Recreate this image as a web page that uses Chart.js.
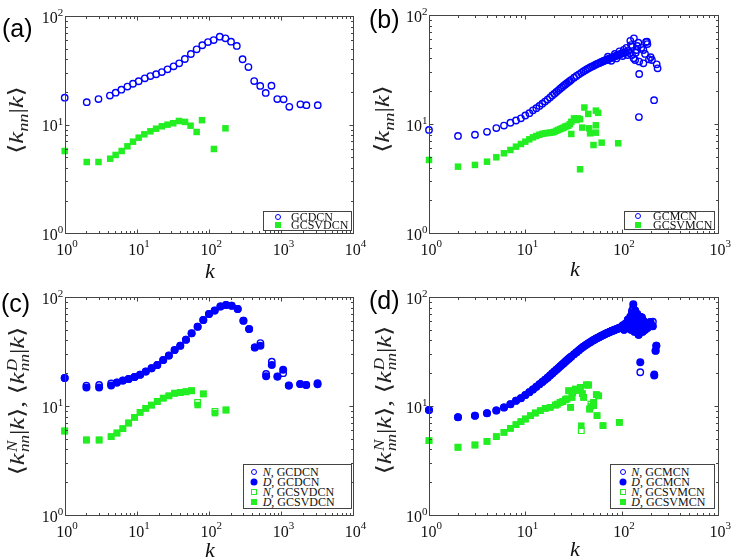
<!DOCTYPE html>
<html><head><meta charset="utf-8">
<script src="https://cdn.jsdelivr.net/npm/chart.js@4.4.1/dist/chart.umd.min.js"></script>
<style>
html,body{margin:0;padding:0;background:#fff}
body{width:734px;height:559px;position:relative;overflow:hidden;font-family:'Liberation Serif',serif;color:#111}
canvas{position:absolute;display:block}
.plab{position:absolute;font:25px 'Liberation Sans',Arial,sans-serif;line-height:25px;color:#000}
.xt{position:absolute;font:italic 22px 'Liberation Serif',serif;line-height:22px;transform:translateX(-50%);color:#111}
.yt{position:absolute;font:22px 'Liberation Serif',serif;line-height:26px;white-space:nowrap;color:#222;transform:translate(-50%,-50%) rotate(-90deg) scaleX(1.22)}
.yt i{font-style:italic}
.yt .sb{font-size:15px;position:relative;top:5px}
.yt .st{display:inline-block;vertical-align:-5px;font-size:14px;line-height:12px;margin-left:1px}
.yt .st i{display:block}
.yt .br{font-family:'DejaVu Serif',serif;font-size:21px;font-weight:300}
.leg{position:absolute;border:1px solid #444;background:#fff;box-sizing:border-box;font:12px 'Liberation Serif',serif;color:#111}
.leg .mk{position:absolute;box-sizing:border-box;transform:translate(-50%,-50%)}
.leg .tx{position:absolute;line-height:10px;white-space:nowrap;transform:translateY(-50%)}
.oc{width:6px;height:6px;border:1.3px solid #0000ff;border-radius:50%}
.fc{width:7px;height:7px;background:#0000ff;border-radius:50%}
.os{width:6px;height:6px;border:1.2px solid #22ee22}
.fs{width:6px;height:6px;background:#22ee22}
</style>
</head><body>
<canvas id="ca" width="367" height="279" style="left:0;top:0"></canvas>
<canvas id="cb" width="367" height="279" style="left:367px;top:0"></canvas>
<canvas id="cc" width="367" height="280" style="left:0;top:279px"></canvas>
<canvas id="cd" width="367" height="280" style="left:367px;top:279px"></canvas>

<div class="plab" style="left:2px;top:16px">(a)</div>
<div class="plab" style="left:369px;top:7px">(b)</div>
<div class="plab" style="left:1px;top:291px">(c)</div>
<div class="plab" style="left:369px;top:288px">(d)</div>

<div class="xt" style="left:210px;top:260px">k</div>
<div class="xt" style="left:575px;top:258px">k</div>
<div class="xt" style="left:210px;top:539px">k</div>
<div class="xt" style="left:575px;top:538px">k</div>

<div class="yt" style="left:17px;top:120px"><span class="br">⟨</span><i>k</i><span class="sb"><i>nn</i></span>|<i>k</i><span class="br">⟩</span></div>
<div class="yt" style="left:383px;top:119px"><span class="br">⟨</span><i>k</i><span class="sb"><i>nn</i></span>|<i>k</i><span class="br">⟩</span></div>
<div class="yt" style="left:17px;top:401px"><span class="br">⟨</span><i>k</i><span class="st"><i>N</i><i>nn</i></span>|<i>k</i><span class="br">⟩</span>, <span class="br">⟨</span><i>k</i><span class="st"><i>D</i><i>nn</i></span>|<i>k</i><span class="br">⟩</span></div>
<div class="yt" style="left:384px;top:400px"><span class="br">⟨</span><i>k</i><span class="st"><i>N</i><i>nn</i></span>|<i>k</i><span class="br">⟩</span>, <span class="br">⟨</span><i>k</i><span class="st"><i>D</i><i>nn</i></span>|<i>k</i><span class="br">⟩</span></div>

<div class="leg" style="left:262.5px;top:211px;width:89px;height:19.5px">
  <span class="mk oc" style="left:14.8px;top:4.7px"></span><span class="tx" style="left:27.5px;top:4.7px">GCDCN</span>
  <span class="mk fs" style="left:14.8px;top:13.3px"></span><span class="tx" style="left:27.5px;top:13.3px">GCSVDCN</span>
</div>
<div class="leg" style="left:623.7px;top:210.7px;width:91.6px;height:19.3px">
  <span class="mk oc" style="left:13.3px;top:4.7px"></span><span class="tx" style="left:28.3px;top:4.7px">GCMCN</span>
  <span class="mk fs" style="left:13.3px;top:13.3px"></span><span class="tx" style="left:28.3px;top:13.3px">GCSVMCN</span>
</div>
<div class="leg" style="left:243.3px;top:464px;width:108.4px;height:45px">
  <span class="mk oc" style="left:10px;top:6.7px"></span><span class="tx" style="left:18.4px;top:6.7px"><i>N</i>, GCDCN</span>
  <span class="mk fc" style="left:10px;top:16.7px"></span><span class="tx" style="left:18.4px;top:16.7px"><i>D</i>, GCDCN</span>
  <span class="mk os" style="left:10px;top:26.7px"></span><span class="tx" style="left:18.4px;top:26.7px"><i>N</i>, GCSVDCN</span>
  <span class="mk fs" style="left:10px;top:36.7px"></span><span class="tx" style="left:18.4px;top:36.7px"><i>D</i>, GCSVDCN</span>
</div>
<div class="leg" style="left:610.3px;top:464px;width:105px;height:45px">
  <span class="mk oc" style="left:11.7px;top:6.7px"></span><span class="tx" style="left:20px;top:6.7px"><i>N</i>, GCMCN</span>
  <span class="mk fc" style="left:11.7px;top:16.7px"></span><span class="tx" style="left:20px;top:16.7px"><i>D</i>, GCMCN</span>
  <span class="mk os" style="left:11.7px;top:26.7px"></span><span class="tx" style="left:20px;top:26.7px"><i>N</i>, GCSVMCN</span>
  <span class="mk fs" style="left:11.7px;top:36.7px"></span><span class="tx" style="left:20px;top:36.7px"><i>D</i>, GCSVMCN</span>
</div>

<script>
// ---------- tick values ----------
const xTicksWide = [1, 10, 100, 1000, 10000];
const xTicksNarrow = [1, 10, 100, 1000];
const yTicks = [1, 10, 100];

// ---------- panel (a) ----------
const aGCDCN_k = [1,2.02,2.94,4.23,5.08,6.1,7.4,8.84,10.6,12.9,15.4,18.5,22.2,26.6,32.3,38.6,46.3,56.1,67.4,80.7,96.8,116,141,169,202,243,292,352,423,513,611,734,884,1081,1298,1849,2240,3216];
const aGCDCN_v = [17.7,16.1,17.2,18.5,19.7,21.0,22.4,23.8,25.1,26.7,28.0,29.1,30.5,32.3,34.4,36.7,40.2,44.7,49.4,53.8,57.6,60.1,64.5,62.3,58.0,53.0,40.0,33.9,25.2,22.7,19.6,22.8,17.2,17.1,14.6,15.4,15.1,15.1];
const aGCSVDCN_k = [1,2.02,2.94,4.27,5.08,6.16,7.4,8.84,10.6,12.7,15.4,18.5,22.2,26.6,31.9,38.3,46.5,55.5,67.4,80,117,169];
const aGCSVDCN_v = [5.72,4.53,4.53,4.86,5.26,5.72,6.32,6.97,7.59,8.15,8.68,9.18,9.66,10.0,10.3,10.8,10.6,9.78,8.56,11.0,5.97,9.25];

// ---------- panel (b) ----------
const bGCMCN_k = [1,2,3,4,5,6,7,8,9,10,11,12,13,14,15,16,17,18,19,20,21,22,23,24,25,26,27,28,29,30,32,34,36,38,40,42,44,46,48,50,52,54,56,58,60,62,64,66,68,70,72,74,76,78,80,82,84,86,88,90,92,94,96,98,100,
  72,78,85,88,95,102,105,108,112,115,118,122,125,129,134,143,149,138,152,133,168,168,179,185,192,206,231,236,152,217,151,160,140,123,183,110,128,145,175,200];
const bGCMCN_v = [8.85,7.8,8.0,8.5,9.2,9.7,10.3,10.8,11.3,12.0,12.6,13.4,14.0,14.7,15.4,16.1,16.8,17.5,18.3,19.0,19.7,20.4,21.1,21.8,22.5,23.1,23.7,24.3,24.9,25.5,26.6,27.6,28.6,29.5,30.4,31.2,32.0,32.7,33.4,34.0,34.6,35.2,35.7,36.2,36.7,37.2,37.7,38.1,38.5,38.9,39.3,39.7,40.1,40.5,40.9,41.3,41.6,42.0,42.3,42.7,43.0,43.4,43.8,44.1,44.5,
  41.5,38.0,44.0,40.0,46.5,42.0,48.0,45.0,50.0,43.0,47.0,44.6,53.0,51.3,61.1,47.8,55.8,38.7,37.4,40.1,47.8,36.1,56.6,54.2,39.3,38.7,35.3,32.5,28.8,16.6,11.6,50.0,45.0,58.0,57.0,46.0,43.0,52.0,44.0,41.0];
const bGCSVMCN_k = [1,2,3,4,5,6,7,8,9,10,11,12,13,14,15,16,17,18,19,20,21,22,23,24,25,26,27,28,29,30,32,34,35,37,41,45,54,57,39,46,47,54,54,51,62,92,30,37];
const bGCSVMCN_v = [4.7,4.08,4.23,4.53,4.97,5.41,5.8,6.22,6.58,6.91,7.26,7.57,7.79,8.0,8.15,8.24,8.3,8.36,8.4,8.5,8.7,8.85,9.0,9.16,9.3,9.49,9.6,9.69,10.0,10.5,11.3,10.9,11.3,11.1,14.2,12.4,13.3,12.7,9.3,9.16,8.24,9.76,8.36,6.44,6.77,6.68,8.13,3.86];

// ---------- panel (c) ----------
const cBlue_k = [1,2,3,4.4,5.3,6.4,7.7,9.3,11.1,13.3,16,19.2,23.2,27.8,33.4,40,48,57.4,69.6,83.4,100,120,144,172,206,250,300,360,431,516,619,742,889,1066,1277,1836,2224,3197];
const cN_GCDCN_v = [18.1,15.4,15.6,16.1,16.4,17.1,17.7,18.5,19.4,20.7,22.2,23.8,26.4,29.0,32.6,35.8,40.6,46.4,53.4,61.5,69.8,75.0,82.0,84.5,83.2,77.6,60.6,50.8,34.5,37.8,19.7,25.5,18.6,20.0,15.4,15.9,15.6,16.2];
const cD_GCDCN_v = [18.1,14.8,14.8,15.4,16.4,17.1,17.7,18.5,19.4,20.7,22.2,23.8,26.4,29.0,32.6,35.8,40.6,46.4,53.4,61.5,69.8,75.0,82.0,84.5,83.2,77.6,60.6,50.8,34.5,35.8,18.7,23.8,18.6,21.5,15.4,15.9,15.6,15.8];
const cGreen_k = [1,2,3,4.4,5.3,6.4,7.7,9.3,11.1,13.3,16,19.2,23.2,27.8,33.4,40,48,57.4,69.6,83.4,121,172];
const cN_GCSVDCN_v = [5.9,4.88,4.88,5.23,5.65,6.2,6.98,7.87,8.75,9.52,10.2,11.0,11.8,12.4,13.1,13.3,13.5,13.8,10.8,12.9,8.9,9.19];
const cD_GCSVDCN_v = [5.9,4.88,4.88,5.23,5.65,6.2,6.98,7.87,8.75,9.52,10.2,11.0,11.8,12.4,13.1,13.3,13.5,13.8,10.2,12.9,8.6,9.19];

// ---------- panel (d) ----------
const dBlueBand_k = [1,2,3,4,5,6,7,8,9,10,11,12,13,14,15,16,17,18,19,20,21,22,23,24,25,26,27,28,29,30,32,34,36,38,40,42,44,46,48,50,52,54,56,58,60,62,64,66,68,70,72,74,76,78,80,82,84,86,88,90,92,94,96,98,100];
const dBlueBand_v = [9.2,7.9,8.15,8.6,9.1,9.7,10.4,11.2,11.8,12.6,13.4,14.2,15.0,15.8,16.6,17.4,18.2,19.0,19.9,20.7,21.5,22.3,23.1,23.9,24.7,25.5,26.3,27.0,27.7,28.4,29.8,31.2,32.5,33.8,35.0,36.0,37.0,38.0,38.9,39.8,40.6,41.4,42.1,42.8,43.5,44.1,44.7,45.3,45.9,46.5,47.0,47.5,48.0,48.5,49.0,49.4,49.8,50.3,50.7,51.1,51.5,51.9,52.3,52.7,53.1];
const dD_GCMCN_tail_k = [103,106,110,113,116,120,123,126,128,130,132,135,138,140,143,146,148,150,153,156,160,165,170,175,180,185,199,210,225,229,218,118,145,162,136,155,142,125];
const dD_GCMCN_tail_v = [55,50,57,52,62,55,66,60,72,64,86,60,75,52,68,58,62,45,56,25.2,55,48,60,50,56,52,59,54,32.2,35.8,19.0,60,70,65,48,66,58,50];
const dN_GCMCN_tail_k = [103,106,110,113,116,120,123,126,128,130,132,135,138,140,143,146,148,150,153,156,160,165,170,175,180,185,199,210,225,229,218,118,145,162,136,155,142,125,206,211];
const dN_GCMCN_tail_v = [55,50,57,52,62,55,66,60,75,64,80,60,75,52,68,58,62,45,56,20.4,55,48,60,50,56,52,59,54,32.2,35.8,19.5,60,70,65,48,66,58,50,54.6,59.4];
const dGreen_k = [1,2,3,4,5,6,7,8,9,10,11.3,12.7,14.3,16.1,18.1,20.5,21.5,23,24.5,26,27,28.2,29.5,30.5,31,33,35,37.2,38.1,39,40.3,43,45.4,46.5,48,51.2,51.2,54.6,55.5,57.7,64,94.6];
const dN_GCSVMCN_v = [4.81,4.18,4.39,4.74,5.23,5.73,6.24,6.74,7.18,7.6,8.15,8.63,9.06,9.52,9.72,10.2,10.4,10.8,11.0,11.4,11.6,13.8,9.72,12.0,13.2,14.3,13.9,14.8,5.94,13.0,12.0,15.6,15.6,9.38,10.4,10.1,10.8,12.7,8.15,12.4,6.6,7.08];
const dD_GCSVMCN_v = [4.81,4.18,4.39,4.74,5.23,5.73,6.24,6.74,7.18,7.6,8.15,8.63,9.06,9.52,9.72,10.2,10.4,10.8,11.0,11.4,11.6,13.8,9.72,12.0,13.2,14.3,13.9,14.8,6.6,13.0,12.0,15.6,15.6,9.38,9.9,10.1,10.8,12.7,8.15,12.4,6.6,7.08];

// ---------- styles ----------
const BLUE = '#0000ff', GREEN = '#22ee22';
const openCircle = {pointStyle:'circle', pointRadius:3.2, pointBorderWidth:1.4, pointBorderColor:BLUE, pointBackgroundColor:'rgba(0,0,0,0)'};
const fillCircle = {pointStyle:'circle', pointRadius:4.0, pointBorderWidth:0, pointBorderColor:BLUE, pointBackgroundColor:BLUE};
const openSquare = {pointStyle:'rect', pointRadius:4.0, pointBorderWidth:1.2, pointBorderColor:GREEN, pointBackgroundColor:'rgba(0,0,0,0)'};
const fillSquare = {pointStyle:'rect', pointRadius:4.6, pointBorderWidth:0, pointBorderColor:GREEN, pointBackgroundColor:GREEN};

function ds(label, ks, vs, style){
  return Object.assign({label, data: ks.map((k,i)=>({x:k, y:vs[i]})), clip:false, showLine:false, pointHoverRadius:0}, style);
}

const framePlugin = {
  id:'frame',
  afterDraw(chart, args, opts){
    const ctx = chart.ctx, a = chart.chartArea, xs = chart.scales.x, ys = chart.scales.y;
    const r = v => Math.round(v) + 0.5;
    const L = r(a.left), R = r(a.right), T = r(a.top), B = r(a.bottom);
    ctx.save();
    ctx.strokeStyle = '#444'; ctx.lineWidth = 1;
    ctx.strokeRect(L, T, R - L, B - T);
    ctx.beginPath();
    const xd = Math.round(Math.log10(xs.max));
    for (let d = 0; d <= xd; d++) for (let m = 1; m <= 9; m++) {
      const v = m * Math.pow(10, d); if (v > xs.max) break;
      const p = r(xs.getPixelForValue(v)); const len = m === 1 ? 4 : 2.5;
      ctx.moveTo(p, B); ctx.lineTo(p, B - len); ctx.moveTo(p, T); ctx.lineTo(p, T + len);
    }
    const yd = Math.round(Math.log10(ys.max));
    for (let d = 0; d <= yd; d++) for (let m = 1; m <= 9; m++) {
      const v = m * Math.pow(10, d); if (v > ys.max) break;
      const p = r(ys.getPixelForValue(v)); const len = m === 1 ? 4 : 2.5;
      ctx.moveTo(L, p); ctx.lineTo(L + len, p); ctx.moveTo(R, p); ctx.lineTo(R - len, p);
    }
    ctx.stroke();
    ctx.fillStyle = '#111';
    const big = '16px "Liberation Serif", serif', small = '11px "Liberation Serif", serif';
    opts.xTicks.forEach(t => {
      const p = xs.getPixelForValue(t), e = String(Math.round(Math.log10(t)));
      ctx.font = big; const w = ctx.measureText('10').width;
      ctx.textAlign = 'center'; ctx.fillText('10', p - 0.5, a.bottom + 21.7);
      ctx.font = small; ctx.textAlign = 'left'; ctx.fillText(e, p - 0.5 + w / 2, a.bottom + 13.5);
    });
    opts.yTicks.forEach(t => {
      const p = ys.getPixelForValue(t), e = String(Math.round(Math.log10(t)));
      ctx.font = small; const se = ctx.measureText(e).width;
      ctx.textAlign = 'right'; ctx.fillText(e, a.left - 1.5, p);
      ctx.font = big; ctx.fillText('10', a.left - 1.5 - se, p + 6.7);
    });
    ctx.restore();
  }
};

function makeChart(id, c){
  return new Chart(document.getElementById(id), {
    type:'scatter',
    data:{datasets:c.datasets},
    options:{
      responsive:false, animation:false, events:[],
      layout:{padding:{left:0, top:c.top, right:c.right, bottom:0}},
      plugins:{legend:{display:false}, tooltip:{enabled:false}, frame:{xTicks:c.xTicks, yTicks:yTicks}},
      scales:{
        x:{type:'logarithmic', min:c.xTicks[0], max:c.xTicks[c.xTicks.length-1], grid:{display:false}, border:{display:false}, ticks:{display:false}, afterFit(s){ s.height = c.xh; }},
        y:{type:'logarithmic', min:yTicks[0], max:yTicks[yTicks.length-1], grid:{display:false}, border:{display:false}, ticks:{display:false}, afterFit(s){ s.width = c.yw; }}
      }
    },
    plugins:[framePlugin]
  });
}

// dataset index 0 is drawn on top
makeChart('ca', {top:16, right:13.7, xh:45.7, yw:64.7, xTicks:xTicksWide, datasets:[
  ds('GCSVDCN', aGCSVDCN_k, aGCSVDCN_v, fillSquare),
  ds('GCDCN', aGCDCN_k, aGCDCN_v, openCircle)
]});
makeChart('cb', {top:15, right:16, xh:45.7, yw:62, xTicks:xTicksNarrow, datasets:[
  ds('GCSVMCN', bGCSVMCN_k, bGCSVMCN_v, fillSquare),
  ds('GCMCN', bGCMCN_k, bGCMCN_v, openCircle)
]});
makeChart('cc', {top:18, right:13.7, xh:44, yw:64.7, xTicks:xTicksWide, datasets:[
  ds('D, GCSVDCN', cGreen_k, cD_GCSVDCN_v, fillSquare),
  ds('N, GCSVDCN', cGreen_k, cN_GCSVDCN_v, openSquare),
  ds('D, GCDCN', cBlue_k, cD_GCDCN_v, fillCircle),
  ds('N, GCDCN', cBlue_k, cN_GCDCN_v, openCircle)
]});
makeChart('cd', {top:18, right:16, xh:44, yw:62, xTicks:xTicksNarrow, datasets:[
  ds('D, GCSVMCN', dGreen_k, dD_GCSVMCN_v, fillSquare),
  ds('N, GCSVMCN', dGreen_k, dN_GCSVMCN_v, openSquare),
  ds('D, GCMCN', dBlueBand_k.concat(dD_GCMCN_tail_k), dBlueBand_v.concat(dD_GCMCN_tail_v), fillCircle),
  ds('N, GCMCN', dBlueBand_k.concat(dN_GCMCN_tail_k), dBlueBand_v.concat(dN_GCMCN_tail_v), openCircle)
]});
</script>
</body></html>
